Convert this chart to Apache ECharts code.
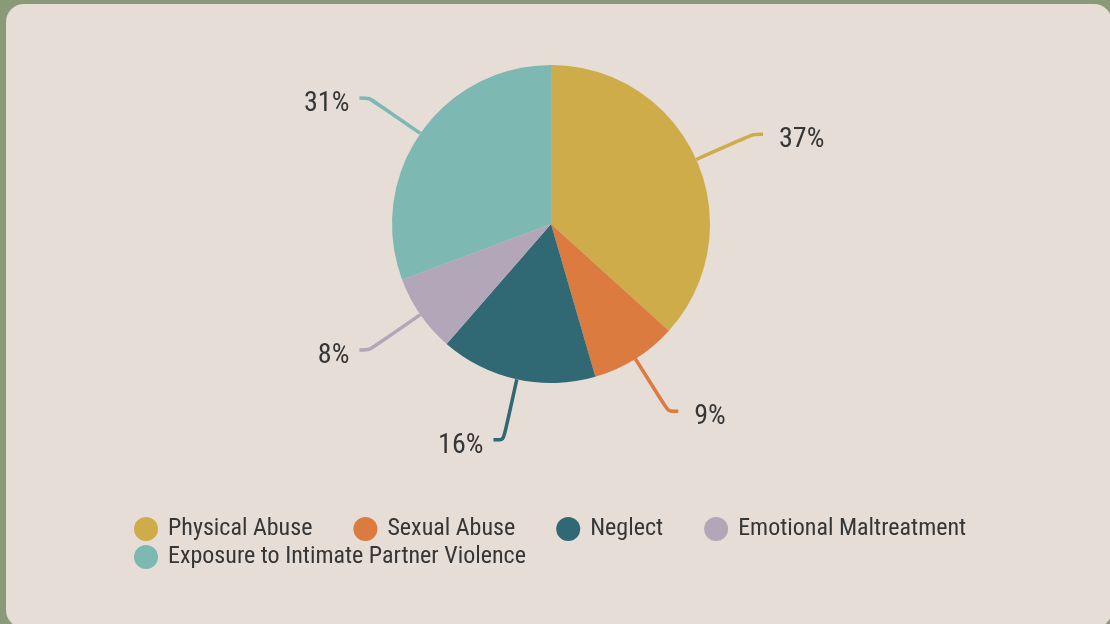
<!DOCTYPE html>
<html>
<head>
<meta charset="utf-8">
<script src="https://cdn.jsdelivr.net/npm/echarts@6/dist/echarts.min.js"></script>
<style>
  html, body { margin: 0; padding: 0; background: #8a9a78; }
  #chart { width: 1110px; height: 624px; }
</style>
</head>
<body>
<div id="chart"></div>
<script>
// Share of substantiated maltreatment by primary category (percent)
const categories = [
  'Physical Abuse',
  'Sexual Abuse',
  'Neglect',
  'Emotional Maltreatment',
  'Exposure to Intimate Partner Violence'
];
const shares = [36.7, 8.8, 15.9, 7.9, 30.7];
const colors = ['#cfac4a', '#dc7b40', '#306873', '#b4a6b9', '#7db8b2'];

const fontStack = "'Roboto Condensed', Roboto, sans-serif";
const textColor = '#363636';
const pieCenter = [551, 224];

const chart = echarts.init(document.getElementById('chart'), null, { renderer: 'canvas' });

const legendBase = {
  orient: 'horizontal',
  icon: 'circle',
  itemWidth: 34,
  itemHeight: 24,
  itemGap: 41,
  left: 129,
  textStyle: { fontFamily: fontStack, fontSize: 24, color: textColor }
};

chart.setOption({
  backgroundColor: '#8a9a78',
  color: colors,
  graphic: [{
    type: 'rect',
    z: -10,
    silent: true,
    shape: { x: 6, y: 4, width: 1106, height: 624, r: 18 },
    style: { fill: '#e6ddd6' }
  }],
  legend: [
    Object.assign({}, legendBase, { top: 512, data: categories.slice(0, 4) }),
    Object.assign({}, legendBase, { top: 540, data: categories.slice(4) })
  ],
  series: [{
    type: 'pie',
    center: pieCenter,
    radius: 159,
    startAngle: 90,
    clockwise: true,
    animation: false,
    data: categories.map((name, i) => ({ name, value: shares[i] })),
    label: {
      show: true,
      formatter: p => Math.round(p.percent) + '%',
      fontFamily: fontStack,
      fontSize: 28,
      color: textColor,
      distanceToLabelLine: 10
    },
    // labels sit a little below the end of their leader line
    labelLayout: p => ({
      dx: p.labelRect.x > pieCenter[0] ? 6 : 0,
      dy: 6
    }),
    labelLine: {
      show: true,
      length: 62,
      length2: 10,
      smooth: 0.25,
      lineStyle: { width: 3.5 }
    },
    emphasis: { disabled: true }
  }]
});
</script>
</body>
</html>
